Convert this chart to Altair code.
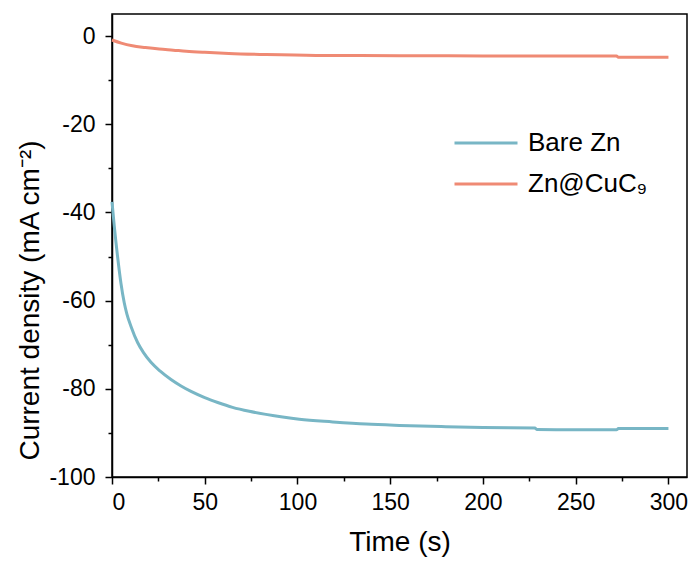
import altair as alt
import pandas as pd

# Bare Zn
t_bare = [0, 1.2, 3, 4.8, 6.6, 8, 10.2, 13.8, 17, 21, 26, 31.8, 37, 42.6, 50, 57,
          65, 74, 83, 92, 101, 119, 137, 155, 180, 200, 228, 229, 250, 272, 273, 300]
v_bare = [-37.6, -43.0, -50, -56, -60.5, -63, -65.8, -69.5, -71.8, -74.0, -76.0, -77.9,
          -79.3, -80.6, -82.0, -83.1, -84.2, -85.1, -85.8, -86.4, -86.9, -87.5, -88.0,
          -88.3, -88.6, -88.8, -88.9, -89.2, -89.3, -89.3, -89.0, -89.0]

# Zn@CuC9
t_cu = [0, 5, 11, 18, 25.5, 33, 40, 50, 63, 83, 110, 155, 200, 242, 272, 273, 300]
v_cu = [-0.9, -1.6, -2.2, -2.6, -2.95, -3.2, -3.45, -3.7, -3.95, -4.2, -4.4, -4.45,
        -4.5, -4.5, -4.55, -4.8, -4.8]

series_names = ["Bare Zn", "Zn@CuC\u2089"]
series_colors = ["#78b6c5", "#ef8a74"]

x_ticks = [0, 25, 50, 75, 100, 125, 150, 175, 200, 225, 250, 275, 300]
y_ticks = [-100, -90, -80, -70, -60, -50, -40, -30, -20, -10, 0]

df = pd.concat([
    pd.DataFrame({"t": t_bare, "v": v_bare, "s": series_names[0]}),
    pd.DataFrame({"t": t_cu, "v": v_cu, "s": series_names[1]}),
])

FONT = "Liberation Sans"

chart = alt.Chart(df).mark_line(strokeWidth=3, interpolate="monotone").encode(
    x=alt.X("t:Q", scale=alt.Scale(domain=[0, 310], nice=False, zero=False),
            axis=alt.Axis(values=x_ticks, title="Time (s)",
                          labelExpr="datum.value % 50 === 0 ? replace(datum.label, '\u2212', '-') : ''",
                          tickSize={"condition": {"test": "datum.value % 50 === 0", "value": 7}, "value": 4},
                          labelOverlap=False, grid=False, labelPadding=7, titlePadding=14,
                          titleFontSize=28)),
    y=alt.Y("v:Q", scale=alt.Scale(domain=[-100, 5], nice=False, zero=False),
            axis=alt.Axis(values=y_ticks, title="Current density (mA cm\u207b\u00b2)",
                          labelExpr="datum.value % 20 === 0 ? replace(datum.label, '\u2212', '-') : ''",
                          tickSize={"condition": {"test": "datum.value % 20 === 0", "value": 7}, "value": 4},
                          labelOverlap=False, grid=False, labelPadding=10, titlePadding=4,
                          titleY=286)),
    color=alt.Color("s:N", scale=alt.Scale(domain=series_names, range=series_colors),
                    legend=alt.Legend(title=None, orient="none", legendX=341, legendY=116,
                                      symbolType="stroke", symbolSize=3969, symbolStrokeWidth=3,
                                      clipHeight=26, rowPadding=15, labelOffset=9,
                                      labelFontSize=26, labelFont=FONT, labelColor="black",
                                      padding=0, symbolOffset=0)),
    order=alt.Order("t:Q"),
).properties(
    width=575, height=463,
    autosize=alt.AutoSizeParams(type="none"),
    padding={"left": 104, "top": 6, "right": 1, "bottom": 82},
).configure_view(
    stroke="black", strokeWidth=1.5
).configure_axis(
    domainColor="black", domainWidth=1.5, tickColor="black", tickWidth=1.5,
    labelFont=FONT, labelFontSize=23, labelColor="black",
    titleFont=FONT, titleFontSize=28, titleFontWeight="normal", titleColor="black",
)

chart.save("out.html", embed_options={"renderer": "svg", "actions": False})
